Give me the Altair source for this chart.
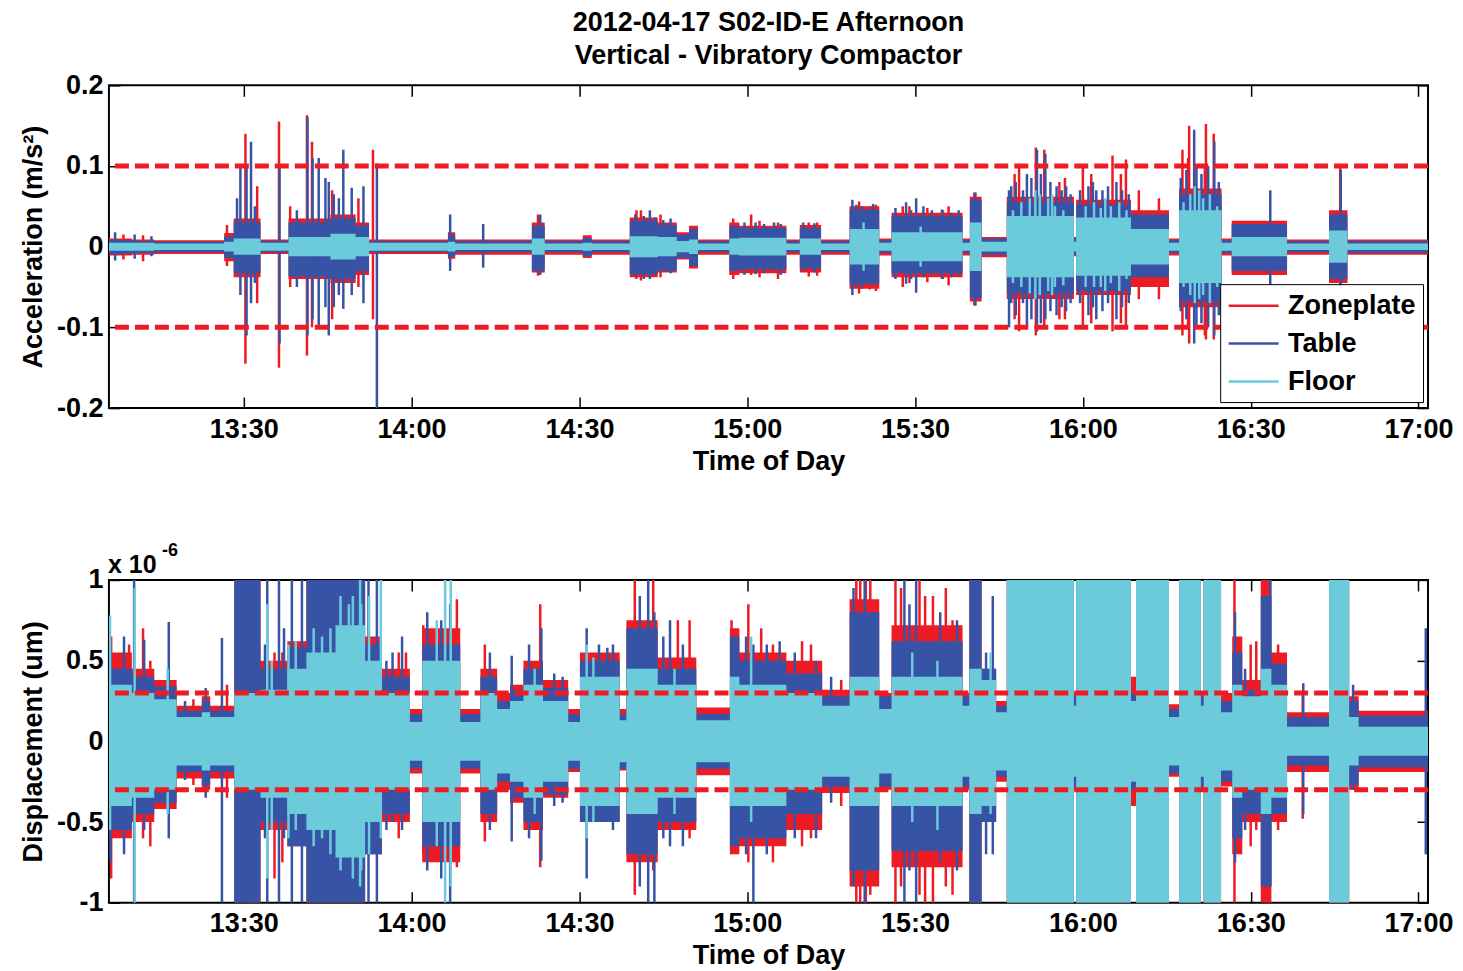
import altair as alt
import pandas as pd

FONT = "Liberation Sans"
SERIES = ["Zoneplate", "Table", "Floor"]
COLORS = ["#ED1C24", "#3753A5", "#6CCBDB"]
LIMIT_COLOR = "#ED1C24"

TITLE_LINES = ["2012-04-17 S02-ID-E Afternoon", "Vertical - Vibratory Compactor"]
X_TITLE = "Time of Day"
TOP_Y_TITLE = "Acceleration (m/s\u00b2)"
BOT_Y_TITLE = "Displacement (um)"
EXP_BASE = "x 10"
EXP_POWER = "-6"

# time in minutes since midnight
X_DOMAIN = [785.9, 1021.7]
TIME_TICKS = [810, 840, 870, 900, 930, 960, 990, 1020]
TOP_Y_DOMAIN = [-0.2, 0.2]
TOP_Y_TICKS = [-0.2, -0.1, 0, 0.1, 0.2]
BOT_Y_DOMAIN = [-1, 1]
BOT_Y_TICKS = [-1, -0.5, 0, 0.5, 1]
TOP_LIMITS = [0.1, -0.1]
BOT_LIMITS = [0.3, -0.3]

# ---------------- top panel (acceleration envelopes) ----------------
TOP_T = [785.9, 790.0, 794.0, 806.5, 808.2, 813.0, 818.0, 825.5, 830.0, 832.4, 846.5, 847.8,
         861.5, 863.8, 870.6, 872.2, 879.0, 884.0, 887.4, 889.6, 891.2, 896.8, 898.6, 907.0,
         909.4, 913.2, 918.3, 923.6, 925.8, 938.5, 939.8, 941.9, 946.4, 958.4, 958.8, 968.6,
         975.4, 977.2, 984.8, 986.6, 996.5, 1004.0, 1007.3, 1021.7]
TOP_RED_HI = [.010, .009, .008, .017, .035, .009, .035, .040, .030, .009, .018, .009,
              .030, .009, .014, .009, .036, .030, .018, .026, .009, .030, .026, .009,
              .027, .009, .050, .010, .042, .010, .062, .012, .062, .012, .058, .045,
              .010, .072, .010, .032, .009, .045, .009, .009]
TOP_RED_LO = [-.011, -.010, -.009, -.018, -.038, -.009, -.040, -.045, -.035, -.009, -.015, -.010,
              -.032, -.010, -.014, -.010, -.038, -.032, -.016, -.027, -.010, -.035, -.033, -.010,
              -.032, -.010, -.052, -.011, -.038, -.011, -.068, -.013, -.065, -.012, -.060, -.050,
              -.011, -.075, -.011, -.035, -.010, -.045, -.010, -.010]
TOP_BLUE_HI = [.008, .007, .006, .013, .030, .007, .030, .035, .026, .007, .014, .007,
               .026, .007, .011, .007, .032, .027, .015, .022, .007, .026, .023, .007,
               .023, .007, .046, .008, .038, .008, .058, .010, .055, .010, .052, .040,
               .008, .065, .008, .028, .007, .040, .007, .007]
TOP_BLUE_LO = [-.009, -.008, -.007, -.014, -.033, -.007, -.037, -.040, -.030, -.007, -.012, -.007,
               -.030, -.007, -.012, -.007, -.034, -.030, -.014, -.024, -.007, -.030, -.028, -.007,
               -.027, -.007, -.046, -.008, -.033, -.008, -.064, -.010, -.058, -.010, -.055, -.038,
               -.008, -.068, -.008, -.030, -.007, -.040, -.008, -.008]
TOP_CYAN_HI = [.005, .005, .004, .006, .010, .005, .012, .016, .012, .005, .006, .004,
               .010, .004, .005, .004, .013, .012, .007, .009, .004, .010, .011, .004,
               .010, .004, .022, .005, .018, .005, .030, .006, .038, .006, .036, .022,
               .005, .045, .005, .012, .004, .020, .004, .004]
TOP_CYAN_LO = [-.005, -.005, -.004, -.006, -.010, -.005, -.012, -.016, -.012, -.005, -.006, -.004,
               -.010, -.004, -.005, -.004, -.013, -.012, -.007, -.009, -.004, -.010, -.011, -.004,
               -.010, -.004, -.022, -.005, -.018, -.005, -.030, -.006, -.038, -.006, -.036, -.022,
               -.005, -.045, -.005, -.012, -.004, -.020, -.004, -.004]

TOP_SPIKE_SERIES = ["Zoneplate", "Table", "Table", "Zoneplate", "Table", "Table", "Zoneplate", "Table",
                    "Zoneplate", "Table", "Zoneplate", "Table", "Zoneplate", "Table", "Zoneplate", "Table",
                    "Table", "Table", "Table", "Zoneplate", "Table", "Table", "Table", "Table",
                    "Zoneplate", "Table", "Zoneplate", "Table", "Table", "Table", "Zoneplate", "Table",
                    "Zoneplate", "Table", "Zoneplate", "Zoneplate", "Zoneplate", "Table", "Zoneplate",
                    "Zoneplate", "Table", "Table", "Zoneplate", "Zoneplate", "Table", "Table",
                    "Zoneplate", "Table", "Floor", "Zoneplate", "Table", "Zoneplate", "Table",
                    "Zoneplate", "Table", "Zoneplate", "Table", "Zoneplate", "Zoneplate", "Zoneplate",
                    "Zoneplate", "Zoneplate", "Table", "Floor", "Zoneplate", "Zoneplate", "Table",
                    "Zoneplate", "Table", "Zoneplate", "Table", "Floor", "Floor",
                    "Table", "Zoneplate", "Table", "Zoneplate", "Table",
                    "Table", "Table", "Table", "Table", "Table", "Zoneplate", "Zoneplate",
                    "Table", "Table", "Table", "Table", "Table", "Zoneplate", "Zoneplate",
                    "Table", "Table", "Zoneplate",
                    "Table", "Table", "Table", "Zoneplate", "Zoneplate",
                    "Table", "Table", "Table", "Table", "Table", "Table", "Table",
                    "Zoneplate", "Zoneplate", "Zoneplate", "Floor", "Floor",
                    # raggedness of the large 15:46-16:25 bursts
                    "Floor", "Floor", "Floor", "Floor", "Floor", "Floor", "Floor",
                    "Floor", "Floor", "Floor", "Floor", "Floor", "Floor",
                    "Floor", "Floor", "Floor", "Floor", "Floor", "Floor",
                    "Table", "Table", "Table", "Table", "Table", "Table", "Table", "Table", "Table",
                    "Table", "Table", "Table", "Table", "Table", "Table", "Table", "Table",
                    "Table", "Table", "Table", "Table", "Table", "Table",
                    "Zoneplate", "Zoneplate", "Zoneplate", "Zoneplate", "Zoneplate", "Zoneplate"]
TOP_SPIKE_T = [807.0, 808.8, 809.4, 810.3, 810.5, 811.3, 812.4, 812.0,
               816.3, 816.4, 818.3, 819.5, 821.3, 821.4, 822.2, 822.3,
               823.4, 824.6, 825.2, 825.8, 826.1, 827.0, 827.8, 829.3,
               830.5, 831.4, 833.1, 833.8, 846.9, 852.8, 862.6, 863.0,
               880.2, 882.6, 897.5, 900.7, 911.0, 918.8, 921.9,
               927.8, 928.4, 930.2, 935.0, 940.6, 940.8, 946.8,
               948.6, 950.0, 951.5, 951.6, 951.8, 953.1, 953.3,
               955.8, 957.0, 960.0, 962.4, 965.3, 967.7, 970.0,
               973.6, 977.8, 979.9, 980.0, 979.0, 982.0, 983.5,
               983.4, 993.5, 1006.0, 1006.1, 954.5, 964.0,
               787.0, 788.5, 790.5, 792.0, 793.5,
               880.0, 881.5, 883.5, 885.0, 886.3, 881.0, 884.5,
               899.5, 901.5, 903.0, 904.8, 906.0, 902.2, 905.5,
               910.0, 912.0, 912.5,
               919.5, 920.5, 922.5, 920.0, 923.0,
               926.5, 929.3, 931.5, 933.0, 934.8, 936.5, 937.8,
               929.0, 932.2, 936.0, 920.8, 931.0,
               947.5, 949.0, 950.5, 952.3, 953.8, 955.0, 956.5,
               960.5, 962.0, 963.2, 965.0, 966.5, 967.8,
               978.0, 979.2, 980.8, 981.5, 982.7, 984.0,
               947.2, 948.0, 949.3, 950.8, 952.5, 954.2, 955.3, 956.2, 957.8,
               959.5, 961.0, 961.8, 963.5, 964.5, 966.0, 967.0, 968.2,
               977.5, 978.5, 980.3, 981.2, 982.4, 984.3,
               947.8, 956.8, 961.5, 966.8, 978.8, 981.8]
TOP_SPIKE_HI = [.027, .060, .100, .140, .100, .130, .075, .050,
                .155, .100, .050, .045, .163, .160, .130, .110,
                .110, .085, .080, .070, .065, .060, .120, .073,
                .060, .075, .120, .103, .040, .028, .040, .040,
                .045, .045, .035, .040, .030, .058, .050,
                .050, .055, .060, .045, .067, .067, .070,
                .100, .090, .070, .123, .120, .120, .115,
                .080, .075, .100, .070, .113, .108, .070,
                .060, .120, .145, .075, .150, .152, .130,
                .140, .070, .100, .095, .065, .060,
                .018, .015, .015, .014, .013,
                .040, .038, .036, .033, .035, .045, .040,
                .030, .030, .028, .030, .028, .032, .030,
                .030, .029, .030,
                .052, .050, .053, .056, .052,
                .048, .045, .050, .045, .046, .042, .045,
                .050, .048, .050, .030, .025,
                .045, .055, .060, .065, .060, .050, .045,
                .050, .055, .048, .050, .055, .045,
                .055, .065, .070, .060, .065, .050,
                .075, .080, .070, .085, .090, .080, .075, .070, .065,
                .070, .075, .080, .070, .075, .080, .070, .065,
                .085, .095, .100, .090, .100, .080,
                .090, .085, .090, .090, .110, .100]
TOP_SPIKE_LO = [-.024, -.030, -.060, -.145, -.110, -.070, -.070, -.045,
                -.150, -.120, -.050, -.050, -.135, -.110, -.100, -.090,
                -.100, -.075, -.110, -.090, -.075, -.060, -.077, -.060,
                -.050, -.070, -.090, -.200, -.030, -.026, -.036, -.035,
                -.040, -.040, -.040, -.035, -.037, -.060, -.053,
                -.050, -.046, -.057, -.040, -.073, -.073, -.100,
                -.105, -.100, -.065, -.110, -.105, -.100, -.090,
                -.090, -.080, -.100, -.090, -.105, -.100, -.065,
                -.065, -.110, -.120, -.070, -.120, -.115, -.110,
                -.115, -.060, -.060, -.055, -.060, -.055,
                -.017, -.016, -.015, -.018, -.012,
                -.038, -.040, -.035, -.030, -.033, -.042, -.038,
                -.035, -.034, -.033, -.030, -.035, -.038, -.040,
                -.030, -.032, -.036,
                -.050, -.052, -.048, -.058, -.055,
                -.040, -.040, -.038, -.036, -.040, -.038, -.035,
                -.045, -.044, -.048, -.030, -.025,
                -.045, -.050, -.058, -.060, -.055, -.050, -.048,
                -.050, -.050, -.050, -.045, -.055, -.040,
                -.050, -.060, -.065, -.060, -.070, -.050,
                -.070, -.085, -.070, -.090, -.095, -.080, -.085, -.075, -.070,
                -.070, -.085, -.075, -.080, -.070, -.090, -.075, -.070,
                -.080, -.090, -.100, -.095, -.100, -.085,
                -.090, -.090, -.095, -.095, -.100, -.110]

# ---------------- bottom panel (displacement envelopes, x 1e-6) ----------------
BOT_T = [785.9, 790.0, 794.0, 798.0, 802.5, 804.0, 808.3, 813.0, 817.8, 821.2, 826.4, 831.7,
         834.7, 839.7, 841.9, 848.7, 852.3, 855.3, 857.6, 860.0, 863.5, 868.0, 870.1, 877.2,
         878.4, 884.0, 890.9, 896.9, 898.6, 907.0, 913.4, 918.3, 923.6, 925.8, 938.5, 939.7,
         941.9, 944.5, 946.4, 958.4, 958.8, 968.6, 969.5, 975.4, 977.2, 981.1, 981.6, 984.7,
         986.7, 988.5, 991.8, 993.7, 996.5, 1004.0, 1007.6, 1009.3, 1021.7]
BOT_RED_HI = [.55, .45, .38, .22, .28, .22, 1, .50, .62, 1, 1, .65,
              .45, .20, .70, .20, .45, .30, .35, .50, .38, .20, .55, .20,
              .75, .52, .21, .70, .55, .50, .32, .88, .30, .72, .30, 1,
              .45, .25, 1, .30, 1, .40, 1, .23, 1, .30, 1, .30,
              .65, .38, 1, .55, .18, 1, .28, .19, .19]
BOT_RED_LO = [-.60, -.50, -.42, -.23, -.30, -.23, -1, -.55, -.65, -1, -1, -.70,
              -.50, -.20, -.75, -.20, -.50, -.30, -.38, -.55, -.35, -.19, -.50, -.18,
              -.75, -.55, -.21, -.70, -.65, -.55, -.32, -.90, -.30, -.78, -.30, -1,
              -.50, -.25, -1, -.30, -1, -.40, -1, -.22, -1, -.30, -1, -.28,
              -.70, -.50, -1, -.50, -.19, -1, -.30, -.19, -.19]
BOT_BLUE_HI = [.45, .40, .34, .19, .25, .19, 1, .45, .58, 1, 1, .60,
               .40, .17, .60, .17, .40, .25, .32, .45, .33, .17, .50, .17,
               .70, .45, .17, .65, .50, .42, .28, .80, .28, .62, .28, 1,
               .45, .22, 1, .28, 1, .30, 1, .20, 1, .28, 1, .25,
               .55, .32, .90, .48, .15, 1, .25, .16, .16]
BOT_BLUE_LO = [-.55, -.45, -.38, -.19, -.27, -.19, -1, -.50, -.65, -1, -1, -.70,
               -.45, -.17, -.65, -.17, -.45, -.25, -.35, -.50, -.33, -.17, -.50, -.17,
               -.70, -.50, -.17, -.65, -.60, -.45, -.28, -.80, -.28, -.68, -.28, -1,
               -.50, -.22, -1, -.28, -1, -.30, -1, -.20, -1, -.28, -1, -.25,
               -.60, -.45, -.90, -.45, -.15, -1, -.27, -.16, -.16]
BOT_CYAN_HI = [.35, .30, .26, .15, .18, .15, .30, .32, .45, .55, .72, .50,
               .30, .12, .50, .12, .30, .20, .25, .35, .25, .12, .40, .13,
               .45, .35, .13, .40, .35, .30, .22, .40, .20, .40, .22, .45,
               .38, .18, 1, .22, 1, .25, 1, .15, 1, .22, 1, .18,
               .35, .28, .45, .35, .09, 1, .15, .09, .09]
BOT_CYAN_LO = [-.40, -.35, -.30, -.15, -.18, -.15, -.30, -.35, -.45, -.55, -.72, -.50,
               -.30, -.12, -.50, -.12, -.30, -.20, -.25, -.35, -.25, -.12, -.40, -.13,
               -.45, -.35, -.13, -.40, -.40, -.30, -.22, -.40, -.20, -.40, -.22, -.45,
               -.40, -.18, -1, -.22, -1, -.25, -1, -.15, -1, -.22, -1, -.18,
               -.35, -.30, -.45, -.35, -.09, -1, -.15, -.09, -.09]

BOT_SPIKE_SERIES = ["Zoneplate", "Table", "Floor", "Table", "Zoneplate", "Table", "Floor", "Zoneplate",
                    "Table", "Zoneplate", "Table", "Floor", "Zoneplate", "Table", "Zoneplate",
                    "Table", "Floor", "Zoneplate", "Table", "Zoneplate", "Table", "Floor", "Table",
                    "Floor", "Floor", "Floor", "Table", "Floor", "Table", "Floor", "Zoneplate",
                    "Table", "Zoneplate", "Table", "Floor", "Table", "Floor", "Zoneplate",
                    "Zoneplate", "Table", "Zoneplate", "Table", "Table", "Floor", "Table", "Table",
                    "Zoneplate", "Table", "Table", "Zoneplate", "Table", "Table", "Zoneplate",
                    "Zoneplate", "Zoneplate", "Floor", "Table", "Zoneplate", "Zoneplate",
                    "Zoneplate", "Zoneplate", "Zoneplate", "Table", "Zoneplate", "Table", "Table",
                    "Zoneplate", "Zoneplate", "Table", "Table", "Floor", "Zoneplate", "Table",
                    "Zoneplate", "Zoneplate", "Zoneplate", "Table", "Zoneplate", "Table",
                    "Zoneplate", "Table", "Table",
                    "Table", "Zoneplate", "Table", "Table", "Floor", "Table", "Floor",
                    "Table", "Table", "Zoneplate", "Table", "Floor", "Table", "Table",
                    "Table", "Floor", "Table", "Table", "Floor", "Table",
                    "Table", "Table", "Floor", "Table", "Table", "Table",
                    "Table", "Zoneplate", "Table", "Table", "Zoneplate",
                    "Table", "Zoneplate", "Zoneplate",
                    "Zoneplate", "Zoneplate", "Table", "Zoneplate", "Zoneplate", "Table",
                    "Zoneplate", "Table", "Floor", "Floor", "Table", "Zoneplate",
                    "Floor", "Floor", "Floor", "Floor", "Floor"]
BOT_SPIKE_T = [786.3, 786.2, 786.1, 788.6, 789.5, 790.4, 790.5, 792.0,
               792.2, 793.3, 796.6, 796.4, 796.9, 806.1, 807.0,
               814.2, 814.2, 815.5, 816.3, 816.9, 818.6, 819.3, 820.4,
               827.3, 828.8, 830.8, 832.3, 832.4, 833.8, 834.5, 837.7,
               838.3, 842.1, 843.9, 846.0, 846.9, 847.0, 848.1,
               853.1, 857.9, 863.0, 863.2, 871.3, 871.3, 873.5, 875.0,
               879.9, 880.8, 882.3, 883.2, 883.4, 886.2, 887.6,
               889.7, 897.2, 900.7, 901.1, 900.2, 902.5,
               904.6, 911.4, 919.5, 921.0, 921.2, 928.1, 930.2,
               933.2, 936.7, 942.7, 943.9, 943.5, 987.1, 987.2,
               990.0, 991.0, 993.3, 993.5, 994.9, 999.4,
               999.3, 1008.3, 1021.3,
               799.5, 801.0, 803.2, 813.8, 815.0, 817.2, 818.0,
               835.5, 836.6, 839.0, 842.8, 844.5, 845.3, 854.0,
               861.0, 862.0, 865.5, 867.0, 872.5, 876.0,
               885.0, 888.5, 887.0, 899.8, 903.5, 905.8,
               908.5, 909.8, 912.3, 915.0, 916.8,
               919.0, 920.2, 922.0,
               926.5, 927.5, 929.0, 930.8, 931.8, 934.5,
               935.5, 937.5, 929.5, 934.0, 989.0, 995.8,
               822.5, 824.0, 825.5, 829.5, 831.0]
BOT_SPIKE_HI = [.65, .60, .78, .65, .60, 1, .95, .70,
                .63, .50, .74, .45, .36, .64, .35,
                1, .85, .55, 1, .55, 1, .62, 1,
                .90, .85, 1, 1, .90, 1, 1, .55,
                .65, .72, .55, 1, .85, 1, .88,
                .60, .53, .85, .70, .70, .60, .60, .58,
                1, .90, 1, 1, .80, .75, .75,
                .75, .75, .65, .60, .85, .70,
                .60, .60, 1, 1, 1, 1, 1,
                .90, .75, .55, .90, .55, 1, .80,
                .60, .62, 1, 1, .60, .36,
                .30, .35, .70,
                .25, .26, .33, .60, .50, .70, .60,
                .50, .55, .55, .80, .75, .75, .55,
                .60, .45, .42, .40, .52, .60,
                .65, .60, .45, .65, .60, .62,
                .55, .62, .50, .40, .38,
                .95, 1, 1,
                1, .95, .85, 1, .90, .80,
                .95, .75, .55, .50, .45, .50,
                .70, .65, .70, .90, .85]
BOT_SPIKE_LO = [-.85, -.75, -.55, -.70, -.45, -1, -1, -.60,
                -.55, -.65, -.60, -.45, -.40, -1, -.35,
                -1, -.85, -.85, -1, -.75, -1, -.55, -1,
                -.80, -.70, -.90, -1, -.70, -1, -.60, -.60,
                -.55, -.70, -.65, -1, -1, -.90, -.78,
                -.62, -.62, -.78, -.74, -.85, -.60, -.50, -.45,
                -.95, -.90, -1, -.80, -1, -.65, -.55,
                -.60, -.70, -.50, -1, -.75, -.60,
                -.75, -.60, -1, -1, -1, -1, -1,
                -1, -.95, -.70, -.70, -.45, -1, -.75,
                -.65, -.55, -1, -.90, -.55, -.45,
                -.48, -.30, -.70,
                -.24, -.27, -.35, -.60, -.55, -.60, -.60,
                -.55, -.50, -.50, -.80, -.65, -.85, -.55,
                -.60, -.45, -.40, -.38, -.50, -.55,
                -.60, -.65, -.45, -.70, -.70, -.60,
                -.60, -.65, -.60, -.38, -.40,
                -.90, -1, -.95,
                -1, -.90, -.80, -.95, -1, -.75,
                -.90, -.80, -.50, -.55, -.55, -.45,
                -.65, -.60, -.70, -.85, -.80]


def envelope_frame(t, hi_lo):
    frames = []
    for name, (hi, lo) in zip(SERIES, hi_lo):
        frames.append(pd.DataFrame({"t": t, "hi": hi, "lo": lo, "series": name}))
    return pd.concat(frames, ignore_index=True)


TOP_ENV = envelope_frame(TOP_T, [(TOP_RED_HI, TOP_RED_LO), (TOP_BLUE_HI, TOP_BLUE_LO),
                                 (TOP_CYAN_HI, TOP_CYAN_LO)])
BOT_ENV = envelope_frame(BOT_T, [(BOT_RED_HI, BOT_RED_LO), (BOT_BLUE_HI, BOT_BLUE_LO),
                                 (BOT_CYAN_HI, BOT_CYAN_LO)])
TOP_SPK = pd.DataFrame({"series": TOP_SPIKE_SERIES, "t": TOP_SPIKE_T,
                        "hi": TOP_SPIKE_HI, "lo": TOP_SPIKE_LO})
BOT_SPK = pd.DataFrame({"series": BOT_SPIKE_SERIES, "t": BOT_SPIKE_T,
                        "hi": BOT_SPIKE_HI, "lo": BOT_SPIKE_LO})

TIME_EXPR = "floor(datum.value / 60) + ':' + (datum.value % 60 == 0 ? '00' : '30')"
NUM_EXPR = "(datum.value < 0 ? '-' : '') + format(abs(datum.value), '~g')"

TICK = 11
FS = 27

color_scale = alt.Scale(domain=SERIES, range=COLORS)


def make_panel(env, spk, limits, ydom, yticks, ytitle, legend, extra=None):
    xs = alt.Scale(domain=X_DOMAIN, nice=False, zero=False)
    ys = alt.Scale(domain=ydom, nice=False, zero=False)
    x_bottom = alt.Axis(orient="bottom", values=TIME_TICKS, labelExpr=TIME_EXPR, title=X_TITLE,
                        offset=-TICK, tickSize=TICK, labelPadding=8, titlePadding=6)
    x_top = alt.Axis(orient="top", values=TIME_TICKS, labels=False, title=None,
                     offset=-TICK, tickSize=TICK)
    y_left = alt.Axis(orient="left", values=yticks, labelExpr=NUM_EXPR, title=ytitle,
                      offset=-TICK, tickSize=TICK, labelPadding=6, titlePadding=9)
    y_right = alt.Axis(orient="right", values=yticks, labels=False, title=None,
                       offset=-TICK, tickSize=TICK)
    layers = []
    for i, (name, col) in enumerate(zip(SERIES, COLORS)):
        e = env[env["series"] == name]
        xa = x_bottom if i == 0 else (x_top if i == 2 else None)
        ya = y_left if i == 0 else None
        layers.append(
            alt.Chart(e).mark_area(interpolate="step-after", color=col, clip=True).encode(
                x=alt.X("t:Q", scale=xs, axis=xa),
                y=alt.Y("hi:Q", scale=ys, axis=ya),
                y2="lo:Q",
            )
        )
        s = spk[spk["series"] == name]
        layers.append(
            alt.Chart(s).mark_rule(strokeWidth=2.5, clip=True).encode(
                x=alt.X("t:Q", scale=xs, axis=None),
                y=alt.Y("hi:Q", scale=ys, axis=None),
                y2="lo:Q",
                color=alt.Color("series:N", scale=color_scale, legend=legend),
            )
        )
    layers.append(
        alt.Chart(pd.DataFrame({"v": limits})).mark_rule(
            color=LIMIT_COLOR, strokeWidth=5, strokeDash=[14, 6]
        ).encode(y=alt.Y("v:Q", scale=ys, axis=y_right))
    )
    if extra:
        layers.extend(extra)
    return alt.layer(*layers).resolve_axis(x="independent", y="independent").properties(
        width=1320, height=323
    )


top_legend = alt.Legend(
    title=None, orient="none", legendX=1112, legendY=199,
    fillColor="white", strokeColor="black", padding=7,
    symbolType="M-1.923,0H1.923", symbolSize=676, symbolStrokeWidth=2.5, symbolOffset=12,
    labelFontSize=FS, labelFont=FONT, labelFontWeight="bold", labelColor="black",
    rowPadding=10, labelOffset=20,
)

exp_layers = [
    alt.Chart(pd.DataFrame({"s": [EXP_BASE]})).mark_text(
        align="left", baseline="alphabetic", fontSize=25, fontWeight="bold", font=FONT, color="black"
    ).encode(x=alt.value(-1), y=alt.value(-7), text="s:N"),
    alt.Chart(pd.DataFrame({"s": [EXP_POWER]})).mark_text(
        align="left", baseline="alphabetic", fontSize=18, fontWeight="bold", font=FONT, color="black"
    ).encode(x=alt.value(53), y=alt.value(-24), text="s:N"),
]

top = make_panel(TOP_ENV, TOP_SPK, TOP_LIMITS, TOP_Y_DOMAIN, TOP_Y_TICKS, TOP_Y_TITLE, top_legend)
top = top.properties(
    title=alt.TitleParams(text=TITLE_LINES, fontSize=FS, font=FONT, fontWeight="bold",
                          anchor="middle", frame="group", offset=1, lineHeight=33, color="black")
)
bottom = make_panel(BOT_ENV, BOT_SPK, BOT_LIMITS, BOT_Y_DOMAIN, BOT_Y_TICKS, BOT_Y_TITLE, None,
                    extra=exp_layers)

chart = (
    alt.vconcat(top, bottom, spacing=66)
    .resolve_scale(color="independent")
    .properties(padding={"left": 10, "top": 0, "right": 0, "bottom": 0}, background="white")
    .configure_view(stroke="black", strokeWidth=2)
    .configure_axis(
        labelFont=FONT, titleFont=FONT, labelFontSize=FS, titleFontSize=FS,
        labelFontWeight="bold", titleFontWeight="bold", labelColor="black", titleColor="black",
        tickColor="black", tickWidth=1.5, grid=False, domain=False,
        labelFlush=False, labelOverlap=False,
    )
)

chart.save("out.html", embed_options={"renderer": "svg", "actions": False})
